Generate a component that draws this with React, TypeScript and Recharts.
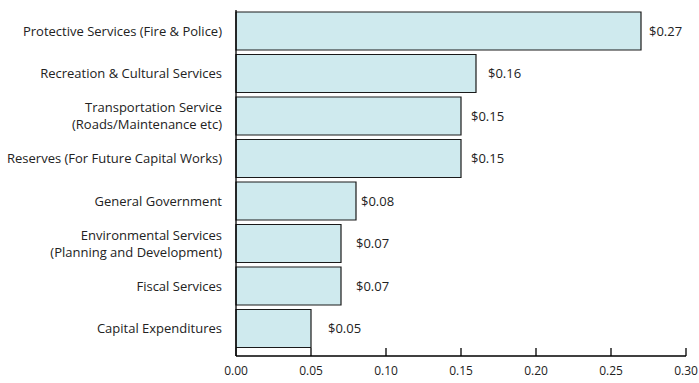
import React from 'react'
import { BarChart, Bar, XAxis, YAxis, LabelList } from 'recharts'

const categories = [
  'Protective Services (Fire & Police)',
  'Recreation & Cultural Services',
  'Transportation Service\n(Roads/Maintenance etc)',
  'Reserves (For Future Capital Works)',
  'General Government',
  'Environmental Services\n(Planning and Development)',
  'Fiscal Services',
  'Capital Expenditures',
]
const amounts = [0.27, 0.16, 0.15, 0.15, 0.08, 0.07, 0.07, 0.05]
const xTicks = [0, 0.05, 0.1, 0.15, 0.2, 0.25, 0.3]

// gap between bar end and its value label, as drawn in the original
const labelGaps = [8, 12, 10, 10, 5, 15, 15, 17]

const data = categories.map((name, i) => ({ name, amount: amounts[i] }))

const font = '"Open Sans", sans-serif'

function CategoryTick(props: any) {
  const { x, y, payload } = props
  const lines = String(payload.value).split('\n')
  const lh = 17
  const start = y - ((lines.length - 1) * lh) / 2
  return (
    <text x={x - 14} y={start} textAnchor="end" fontSize={13} fontFamily={font} fill="#222">
      {lines.map((l, i) => (
        <tspan key={i} x={x - 14} y={start + i * lh} dy="0.35em">
          {l}
        </tspan>
      ))}
    </text>
  )
}

function ValueTick(props: any) {
  const { x, y, payload } = props
  return (
    <g>
      <line x1={x} x2={x} y1={y - 8} y2={y} stroke="#000" strokeWidth={1.3} />
      <text x={x} y={y + 19} textAnchor="middle" fontSize={12} fontFamily={font} fill="#222">
        {Number(payload.value).toFixed(2)}
      </text>
    </g>
  )
}

function AmountLabel(props: any) {
  const { x, y, width, height, value, index } = props
  return (
    <text
      x={x + width + labelGaps[index]}
      y={y + height / 2}
      dy="0.35em"
      fontSize={13}
      fontFamily={font}
      fill="#222"
    >
      ${Number(value).toFixed(2)}
    </text>
  )
}

export default function App() {
  return (
    <div style={{ position: 'absolute', left: 0, top: 0, background: '#fff' }}>
      <BarChart
        width={699}
        height={383}
        data={data}
        layout="vertical"
        margin={{ top: 10, right: 13, left: 0, bottom: 0 }}
      >
        <XAxis
          type="number"
          domain={[0, 0.3]}
          ticks={xTicks}
          height={27}
          tickSize={0}
          tickMargin={0}
          tick={<ValueTick />}
          axisLine={{ stroke: '#000', strokeWidth: 1.3 }}
          interval={0}
        />
        <YAxis
          type="category"
          dataKey="name"
          width={236}
          tickLine={false}
          tickSize={0}
          tickMargin={0}
          tick={<CategoryTick />}
          axisLine={{ stroke: '#000', strokeWidth: 1.3 }}
          padding={{ top: 0, bottom: 6 }}
          interval={0}
        />
        <Bar
          dataKey="amount"
          fill="#cfeaee"
          stroke="#1a1a1a"
          strokeWidth={1.2}
          barSize={38}
          isAnimationActive={false}
        >
          <LabelList dataKey="amount" content={<AmountLabel />} />
        </Bar>
      </BarChart>
    </div>
  )
}
